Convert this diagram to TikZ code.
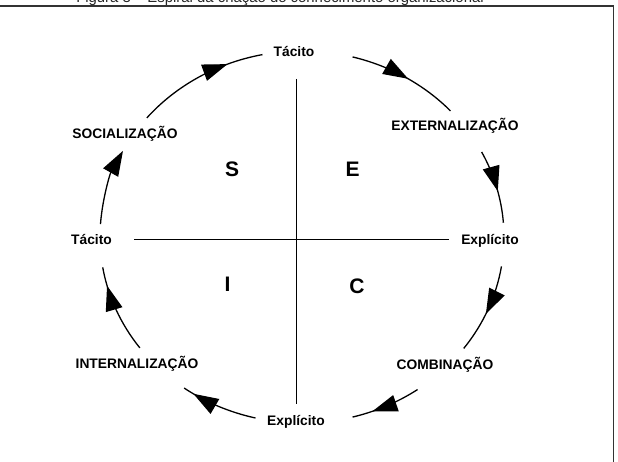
\documentclass[tikz,border=0pt]{standalone}
\usepackage{fontspec}
\setmainfont{Liberation Sans}
\usetikzlibrary{arrows.meta,decorations.markings}

\tikzset{
lbl/.style={anchor=base, inner sep=0pt, font=\fontsize{13.8}{16}\selectfont\bfseries},
quad/.style={anchor=base, inner sep=0pt, font=\fontsize{21}{24}\selectfont\bfseries},
flow/.style={line width=1.3pt, postaction={decorate}, decoration={markings,
  mark=at position #1 with {\arrow{Triangle[length=25pt,width=17pt]}}}}
}

\begin{document}
\begin{tikzpicture}[x=1pt,y=-1pt]
\useasboundingbox (0,0) rectangle (618,462);
\draw[line width=1.5pt, black!80] (-5,6) rectangle (613.5,470);
\node[anchor=base, inner sep=0pt, font=\fontsize{14.9}{17}\selectfont, black!85] (cap) at (280,2.5) {Figura 3 – Espiral da criação do conhecimento organizacional};
\coordinate (ctr) at (302,237);
\node[lbl] (tacTop) at (294,56.7) {Tácito};
\node[lbl] (expBot) at (296,425) {Explícito};
\node[lbl] (tacLeft) at (91.5,245) {Tácito};
\node[lbl] (expRight) at (490,244) {Explícito};
\node[lbl] (soc) at (125,139) {SOCIALIZAÇÃO};
\node[lbl] (ext) at (455,130.7) {EXTERNALIZAÇÃO};
\node[lbl] (int) at (137,368) {INTERNALIZAÇÃO};
\node[lbl] (comb) at (445,369) {COMBINAÇÃO};
\node[quad] (S) at (232,177) {S};
\node[quad] (E) at (352.5,176.7) {E};
\node[quad] (I) at (227.5,291.7) {I};
\node[quad] (C) at (357,293) {C};
\draw[line width=1.2pt] (134,239.3) -- (449,239.3);
\draw[line width=1.2pt] (296.5,79) -- (296.5,404);
% spiral, clockwise
\draw[line width=1.3pt, -{Triangle[length=25pt,width=17pt]}] (ctr) ++(184:202 and 186) arc[start angle=184, end angle=207.6, x radius=202, y radius=186];
\draw[flow=0.73] (ctr) ++(219.8:202 and 186) arc[start angle=219.8, end angle=258.7, x radius=202, y radius=186];
\draw[flow=0.53] (ctr) ++(284.5:202 and 186) arc[start angle=284.5, end angle=317.3, x radius=202, y radius=186];
\draw[flow=0.57] (ctr) ++(332.8:202 and 186) arc[start angle=332.8, end angle=355.6, x radius=202, y radius=186];
\draw[flow=0.55] (ctr) ++(369.1:202 and 186) arc[start angle=369.1, end angle=396.8, x radius=202, y radius=186];
\draw[flow=0.71] (ctr) ++(415.1:202 and 186) arc[start angle=415.1, end angle=435.5, x radius=202, y radius=186];
\draw[flow=0.86] (ctr) ++(463.3:202 and 186) arc[start angle=463.3, end angle=485.7, x radius=202, y radius=186];
\draw[flow=0.79] (ctr) ++(503.4:202 and 186) arc[start angle=503.4, end angle=530.6, x radius=202, y radius=186];
\end{tikzpicture}
\end{document}
